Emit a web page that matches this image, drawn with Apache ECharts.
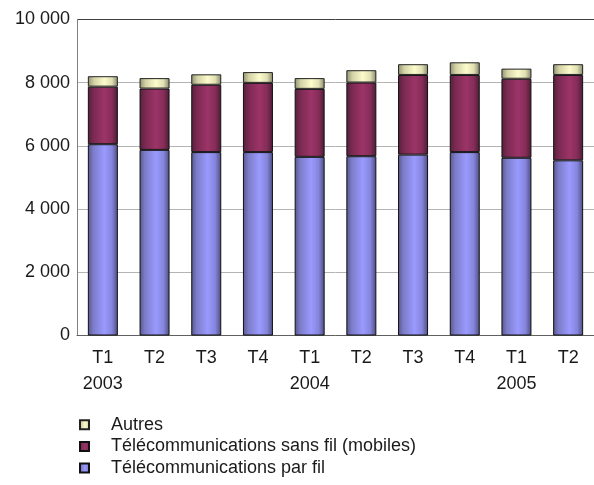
<!DOCTYPE html>
<html>
<head>
<meta charset="utf-8">
<script src="https://cdn.jsdelivr.net/npm/echarts@6/dist/echarts.min.js"></script>
<style>
html,body{margin:0;padding:0;background:#fff;}
#chart{width:594px;height:485px;}
</style>
</head>
<body>
<div id="chart"></div>
<script>
var quarters = ['T1','T2','T3','T4','T1','T2','T3','T4','T1','T2'];
var years = ['2003','','','','2004','','','','2005',''];
var filaire = [6050, 5870, 5800, 5800, 5650, 5670, 5720, 5800, 5620, 5540];
var mobiles = [1820, 1940, 2130, 2190, 2150, 2330, 2520, 2440, 2500, 2700];
var autres = [330, 330, 330, 340, 340, 390, 340, 400, 320, 340];
var yTicks = [0, 2000, 4000, 6000, 8000, 10000];
var seriesNames = ['Télécommunications par fil', 'Télécommunications sans fil (mobiles)', 'Autres'];

function grad(stops) {
  return new echarts.graphic.LinearGradient(0, 0, 1, 0, stops.map(function (c) {
    return { offset: c[0], color: c[1] };
  }));
}
var filColor = grad([[0, '#56568f'], [0.18, '#7c7cc8'], [0.55, '#9a9aff'], [0.8, '#8585dc'], [1, '#4c4c80']]);
var mobColor = grad([[0, '#55203b'], [0.2, '#7c2a53'], [0.55, '#9c3468'], [0.8, '#862d59'], [1, '#4a1c33']]);
var autColor = grad([[0, '#8f8f70'], [0.2, '#d2d2a6'], [0.55, '#fbfbcc'], [0.8, '#e0e0b4'], [1, '#85856a']]);

var cats = quarters.map(function (q, i) { return q + ' ' + i; });
var font = "'Liberation Sans', Arial, sans-serif";

var chart = echarts.init(document.getElementById('chart'));
chart.setOption({
  animation: false,
  backgroundColor: '#ffffff',
  textStyle: { fontFamily: font },
  grid: { left: 77, right: -12, top: 19.3, bottom: 149.5 },
  legend: {
    orient: 'vertical',
    left: 79,
    top: 415.7,
    padding: 0,
    icon: 'rect',
    itemWidth: 9,
    itemHeight: 9,
    itemGap: 3.7,
    data: [seriesNames[2], seriesNames[1], seriesNames[0]],
    textStyle: { fontFamily: font, fontSize: 18, color: '#1a1a1a', lineHeight: 18, padding: [0, 0, 0, 17] }
  },
  xAxis: {
    type: 'category',
    data: cats,
    axisLine: { lineStyle: { color: '#606060', width: 1 } },
    axisTick: { show: false },
    axisLabel: {
      interval: 0,
      margin: 9.8,
      fontFamily: font,
      fontSize: 18,
      lineHeight: 26,
      color: '#1a1a1a',
      formatter: function (v, i) { return quarters[i] + '\n' + years[i]; }
    }
  },
  yAxis: {
    type: 'value',
    min: yTicks[0],
    max: yTicks[yTicks.length - 1],
    interval: yTicks[1] - yTicks[0],
    axisLine: { show: true, lineStyle: { color: '#808080', width: 1 } },
    axisTick: { show: false },
    axisLabel: {
      margin: 7,
      fontFamily: font,
      fontSize: 18,
      color: '#1a1a1a',
      formatter: function (v) {
        if (v >= 1000) {
          var t = Math.floor(v / 1000), r = String(v % 1000);
          while (r.length < 3) r = '0' + r;
          return t + ' ' + r;
        }
        return String(v);
      }
    },
    splitLine: { show: true, lineStyle: { color: ['#b4b4b4', '#b4b4b4', '#b4b4b4', '#b4b4b4', '#b4b4b4', '#404040'], width: 1 } }
  },
  series: [
    { name: seriesNames[0], type: 'bar', stack: 's', data: filaire, barWidth: 30,
      itemStyle: { color: filColor, borderColor: '#111', borderWidth: 1 } },
    { name: seriesNames[1], type: 'bar', stack: 's', data: mobiles, barWidth: 30,
      itemStyle: { color: mobColor, borderColor: '#111', borderWidth: 1 } },
    { name: seriesNames[2], type: 'bar', stack: 's', data: autres, barWidth: 30,
      itemStyle: { color: autColor, borderColor: '#222', borderWidth: 1 } }
  ]
});
</script>
</body>
</html>
